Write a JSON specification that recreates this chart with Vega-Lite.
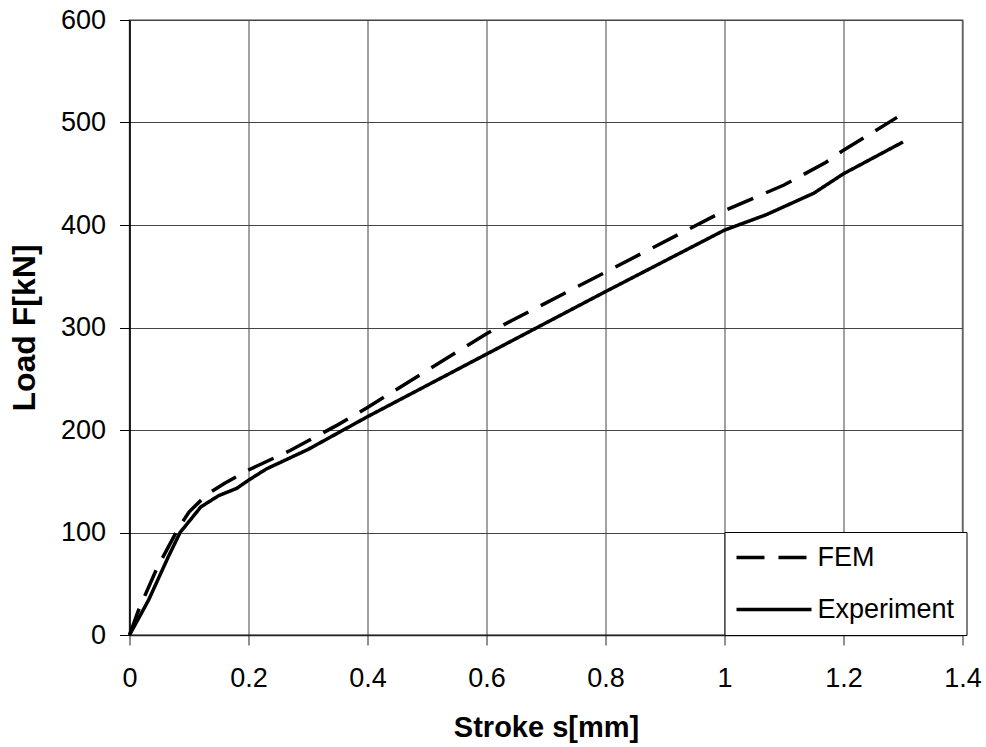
{
  "$schema": "https://vega.github.io/schema/vega-lite/v6.json",
  "width": 833,
  "height": 615,
  "autosize": {"type": "none"},
  "padding": {"left": 129.5, "top": 20, "right": 23.5, "bottom": 112},
  "background": "white",
  "config": {
    "font": "Liberation Sans",
    "view": {"stroke": "#808080", "strokeWidth": 1.5}
  },
  "data": {
    "values": [
      {"series": "FEM", "stroke": 0, "load": 0},
      {"series": "FEM", "stroke": 0.015, "load": 24},
      {"series": "FEM", "stroke": 0.046, "load": 65},
      {"series": "FEM", "stroke": 0.082, "load": 104},
      {"series": "FEM", "stroke": 0.1, "load": 120},
      {"series": "FEM", "stroke": 0.13, "load": 137},
      {"series": "FEM", "stroke": 0.16, "load": 148},
      {"series": "FEM", "stroke": 0.2, "load": 161},
      {"series": "FEM", "stroke": 0.27, "load": 180},
      {"series": "FEM", "stroke": 0.35, "load": 205},
      {"series": "FEM", "stroke": 0.4, "load": 222},
      {"series": "FEM", "stroke": 0.6, "load": 294},
      {"series": "FEM", "stroke": 0.8, "load": 354},
      {"series": "FEM", "stroke": 1.0, "load": 414},
      {"series": "FEM", "stroke": 1.1, "load": 439},
      {"series": "FEM", "stroke": 1.17, "load": 461},
      {"series": "FEM", "stroke": 1.2, "load": 473},
      {"series": "FEM", "stroke": 1.29, "load": 505},
      {"series": "Experiment", "stroke": 0, "load": 0},
      {"series": "Experiment", "stroke": 0.032, "load": 34},
      {"series": "Experiment", "stroke": 0.065, "load": 76},
      {"series": "Experiment", "stroke": 0.085, "load": 100},
      {"series": "Experiment", "stroke": 0.12, "load": 125},
      {"series": "Experiment", "stroke": 0.15, "load": 136},
      {"series": "Experiment", "stroke": 0.18, "load": 143},
      {"series": "Experiment", "stroke": 0.2, "load": 151},
      {"series": "Experiment", "stroke": 0.23, "load": 162},
      {"series": "Experiment", "stroke": 0.3, "load": 181},
      {"series": "Experiment", "stroke": 0.35, "load": 197},
      {"series": "Experiment", "stroke": 0.4, "load": 213},
      {"series": "Experiment", "stroke": 0.6, "load": 274},
      {"series": "Experiment", "stroke": 0.8, "load": 335},
      {"series": "Experiment", "stroke": 1.0, "load": 395},
      {"series": "Experiment", "stroke": 1.07, "load": 410},
      {"series": "Experiment", "stroke": 1.15, "load": 431},
      {"series": "Experiment", "stroke": 1.2, "load": 450},
      {"series": "Experiment", "stroke": 1.3, "load": 481}
    ]
  },
  "mark": {"type": "line", "color": "black", "strokeWidth": 3.5, "strokeCap": "butt"},
  "encoding": {
    "x": {
      "field": "stroke",
      "type": "quantitative",
      "scale": {"domain": [0, 1.4], "nice": false, "zero": false},
      "axis": {
        "values": [0, 0.2, 0.4, 0.6, 0.8, 1, 1.2, 1.4],
        "format": "~g",
        "grid": true,
        "gridColor": "#444",
        "gridWidth": 1,
        "domainColor": "#222",
        "domainWidth": 1.5,
        "tickColor": "#222",
        "tickSize": 10,
        "labelFontSize": 27,
        "labelColor": "black",
        "labelPadding": 20,
        "labelFlush": false,
        "title": "Stroke s[mm]",
        "titleFontSize": 29,
        "titleFontWeight": "bold",
        "titleColor": "black",
        "titlePadding": 22
      }
    },
    "y": {
      "field": "load",
      "type": "quantitative",
      "scale": {"domain": [0, 600], "nice": false},
      "axis": {
        "values": [0, 100, 200, 300, 400, 500, 600],
        "grid": true,
        "gridColor": "#444",
        "gridWidth": 1,
        "domainColor": "black",
        "domainWidth": 1.5,
        "tickColor": "black",
        "tickSize": 10,
        "labelFontSize": 27,
        "labelColor": "black",
        "labelPadding": 14,
        "labelFlush": false,
        "title": "Load F[kN]",
        "titleFontSize": 32,
        "titleFontWeight": "bold",
        "titleColor": "black",
        "titlePadding": 19
      }
    },
    "strokeDash": {
      "field": "series",
      "type": "nominal",
      "scale": {"domain": ["FEM", "Experiment"], "range": [[28, 14], [1, 0]]},
      "legend": {
        "title": null,
        "orient": "none",
        "legendX": 595,
        "legendY": 512,
        "padding": 12,
        "strokeColor": "black",
        "fillColor": "white",
        "labelFontSize": 27,
        "labelColor": "black",
        "labelOffset": 30,
        "symbolType": "M-5,0H5",
        "symbolSize": 225,
        "symbolOffset": 24,
        "symbolStrokeWidth": 3.5,
        "symbolStrokeColor": "black",
        "symbolFillColor": "transparent",
        "rowPadding": 24
      }
    }
  }
}
